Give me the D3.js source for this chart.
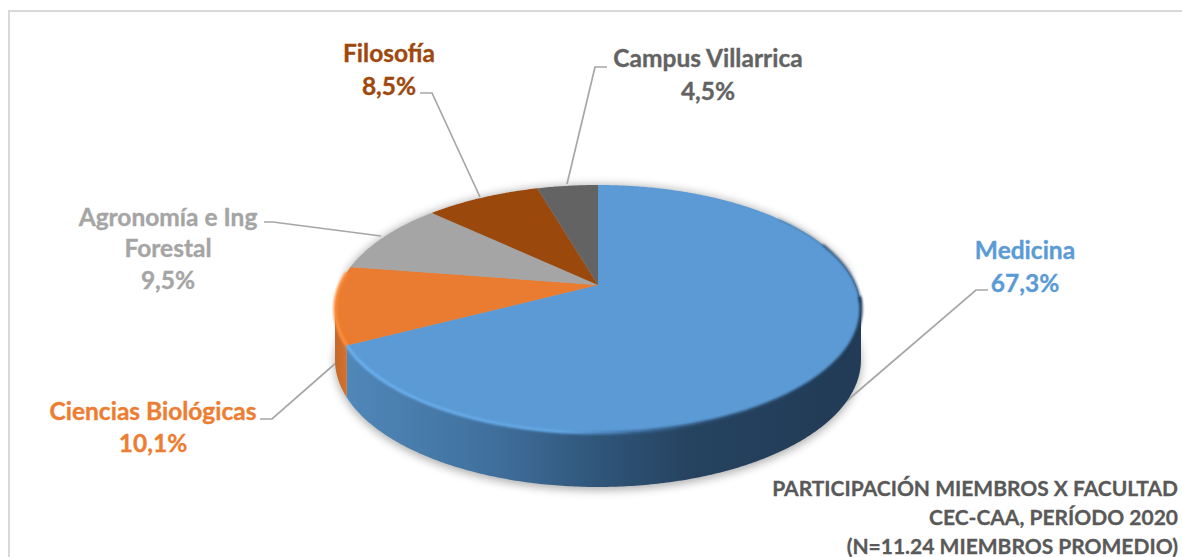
<!DOCTYPE html>
<html><head><meta charset="utf-8">
<script src="https://cdn.jsdelivr.net/npm/d3@7"></script>
<style>html,body{margin:0;padding:0;background:#fff;overflow:hidden}svg{display:block}text{font-family:Lato,"Open Sans",sans-serif;font-weight:700}</style>
</head><body><svg id="c" width="1182" height="557"></svg>
<script>
const categories=["Medicina","Ciencias Biológicas","Agronomía e Ing Forestal","Filosofía","Campus Villarrica"];
const values=[67.3,10.1,9.5,8.5,4.5];
const valueLabels=["67,3%","10,1%","9,5%","8,5%","4,5%"];
const colors=["#5b9ad4","#e97c30","#a5a5a5","#9a480c","#636363"];
const textColors=["#5b9bd5","#ed7d31","#a5a5a5","#9e480e","#636363"];
const titleLines=["PARTICIPACIÓN MIEMBROS X FACULTAD","CEC-CAA, PERÍODO 2020","(N=11.24 MIEMBROS PROMEDIO)"];

const labelLayout=[
 {x:1025,y:[259,292],lines:["Medicina"]},
 {x:153,y:[420,452],lines:["Ciencias Biológicas"]},
 {x:168,y:[226,257,289],lines:["Agronomía e Ing","Forestal"]},
 {x:389,y:[62,95],lines:["Filosofía"]},
 {x:708,y:[67,100],lines:["Campus Villarrica"]}];
const leaders=[
 [[842,405],[976,290],[988,290]],
 [[345,355],[272,419],[260,419]],
 [[381,236],[273,222],[264,222]],
 [[480,197],[432,93],[420,93]],
 [[567,184],[595,67],[607,67]]];
const titleYs=[496,525,554];

const svg=d3.select("#c");
const defs=svg.append("defs");
const cx=598,apexY=285,k=0.1935,A=258,B=119.35;
const tau=2*Math.PI;
const project=a=>{const x=Math.sin(a),y=Math.cos(a),w=1+k*y;return [cx+A*x/w,apexY-B*y/w];};
const depth=a=>50+Math.max(0,-Math.cos(a))*4;
const projectLow=a=>{const p=project(a);return [p[0],p[1]+depth(a)];};
const sample=(a0,a1)=>{const n=Math.max(2,Math.ceil(Math.abs(a1-a0)/0.01));return d3.range(n+1).map(i=>a0+(a1-a0)*i/n);};
const line=d3.line();
const pie=d3.pie().sort(null).value(d=>d)(values);

const blur=(id,s)=>defs.append("filter").attr("id",id).attr("x","-20%").attr("y","-20%").attr("width","140%").attr("height","140%")
  .append("feGaussianBlur").attr("stdDeviation",s);
blur("b6",5);blur("b1",0.8);
const grad=(id,x1,x2,stops)=>{const g=defs.append("linearGradient").attr("id",id).attr("gradientUnits","userSpaceOnUse")
  .attr("x1",x1).attr("x2",x2).attr("y1",0).attr("y2",0);
  stops.forEach(s=>g.append("stop").attr("offset",s[0]).attr("stop-color",s[1]));};
grad("sideBlue",345,860,[[0,"#5088ba"],[0.3,"#3f6e9b"],[0.5,"#2f5478"],[0.68,"#25425f"],[1,"#223b56"]]);
grad("sideOrange",335,352,[[0,"#c5682a"],[1,"#dd7530"]]);
grad("rimBlue",345,861,[[0,"#6ab0ee"],[0.42,"#62a6e4"],[0.56,"#3b6c9c"],[0.7,"#2a4c6e"],[1,"#1f3a56"]]);

// frame
svg.append("path").attr("d",line([[9,557],[9,11],[1182,11]])).attr("fill","none").attr("stroke","#d9d9d9").attr("stroke-width",2);

const frontStart=Math.acos(-k), frontEnd=tau-Math.acos(-k);
const medEnd=pie[0].endAngle;
// shadow
const shadowPts=sample(frontStart-0.3,frontEnd+0.3).map(a=>{const p=projectLow(a);return [p[0],p[1]+3];}).concat(sample(frontEnd+0.3,frontStart-0.3+tau).map(project));
svg.append("path").attr("d",line(shadowPts)+"Z").attr("fill","#000").attr("opacity",0.33).attr("filter","url(#b6)");

// leader lines (tucked behind the wall)
svg.append("g").selectAll("path").data(leaders).join("path").attr("d",d=>line(d))
  .attr("fill","none").attr("stroke","#a6a6a6").attr("stroke-width",1.7);

// side walls
const wall=(a0,a1)=>line(sample(a0,a1).map(project).concat(sample(a1,a0).map(projectLow)))+"Z";
svg.append("path").attr("d",wall(frontStart,medEnd)).attr("fill","url(#sideBlue)");
svg.append("path").attr("d",wall(medEnd,frontEnd)).attr("fill","url(#sideOrange)");

// top face
svg.append("g").selectAll("path").data(pie).join("path")
  .attr("d",d=>line([[cx,apexY]].concat(sample(d.startAngle,d.endAngle).map(project)))+"Z")
  .attr("fill",(d,i)=>colors[i]);

// bevel rims
const rim=(a0,a1,stroke,w,f,op)=>svg.append("path").attr("d",line(sample(a0,a1).map(project))).attr("fill","none")
  .attr("stroke",stroke).attr("stroke-width",w).attr("filter",f).attr("stroke-opacity",op);
rim(0.9,1.25,"#1f3a56",1,"url(#b1)",0.5);
rim(1.2,frontStart-0.05,"#1f3a56",1.8,"url(#b1)",0.8);
rim(frontStart-0.1,medEnd,"url(#rimBlue)",3.2,"url(#b1)",1);
rim(medEnd,frontEnd+0.3,"#ff8e3a",3.2,"url(#b1)",1);

// labels
const fs=24.5;
labelLayout.forEach((l,i)=>{
  const rows=l.lines.concat([valueLabels[i]]);
  rows.forEach((t,j)=>svg.append("text").attr("x",l.x).attr("y",l.y[j]).attr("text-anchor","middle")
    .attr("font-size",fs).attr("fill",textColors[i]).attr("stroke",textColors[i]).attr("stroke-width",0.35).text(t));
});
titleLines.forEach((t,i)=>svg.append("text").attr("x",1178).attr("y",titleYs[i]).attr("text-anchor","end")
  .attr("font-size",21).attr("fill","#595959").attr("stroke","#595959").attr("stroke-width",0.3).text(t));
</script></body></html>
